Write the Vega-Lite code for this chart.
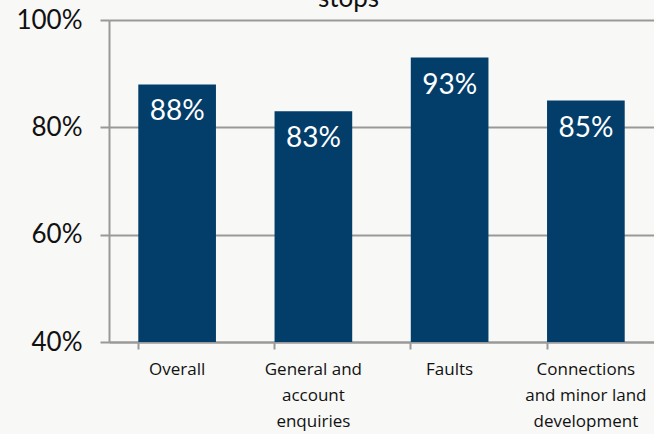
{
  "$schema": "https://vega.github.io/schema/vega-lite/v6.json",
  "width": 545,
  "height": 322,
  "autosize": {"type": "none"},
  "padding": {"left": 109, "top": 20, "right": 0, "bottom": 92},
  "background": "#f8f8f6",
  "title": {"text": "stops", "fontSize": 26, "font": "Lato", "fontWeight": "normal", "color": "#111111", "offset": -5, "anchor": "middle", "dx": -33},
  "data": {"values": [
    {"category": "Overall", "value": 0.88},
    {"category": "General and\naccount\nenquiries", "value": 0.83},
    {"category": "Faults", "value": 0.93},
    {"category": "Connections\nand minor land\ndevelopment", "value": 0.85}
  ]},
  "config": {"view": {"stroke": null}},
  "encoding": {
    "x": {"field": "category", "type": "nominal", "sort": null,
      "scale": {"paddingInner": 0.43, "paddingOuter": 0.215},
      "axis": {"title": null, "labelAngle": 0, "labelExpr": "split(datum.label, '\\n')",
        "labelFont": "Open Sans", "labelFontSize": 17, "labelColor": "#111111", "labelLineHeight": 26,
        "labelPadding": 12, "bandPosition": 0, "tickSize": 7, "tickColor": "#999999", "tickWidth": 2,
        "domainColor": "#999999", "domainWidth": 2, "labelBaseline": "top"}},
    "y": {"field": "value", "type": "quantitative",
      "scale": {"domain": [0.4, 1], "zero": false, "nice": false},
      "axis": {"title": null, "values": [0.4, 0.6, 0.8, 1], "format": ".0%",
        "labelFont": "Lato", "labelFontSize": 26, "labelColor": "#111111", "labelPadding": 18,
        "tickSize": 9, "tickColor": "#999999", "tickWidth": 2, "domainColor": "#999999", "domainWidth": 2,
        "grid": true, "gridColor": "#999999", "gridWidth": 2}}
  },
  "layer": [
    {"mark": {"type": "bar", "color": "#033d69"}, "encoding": {"y2": {"datum": 0.4}}},
    {"mark": {"type": "text", "color": "white", "font": "Lato", "fontSize": 28, "baseline": "middle", "dy": 28},
     "encoding": {"text": {"field": "value", "type": "quantitative", "format": ".0%"}}}
  ]
}
